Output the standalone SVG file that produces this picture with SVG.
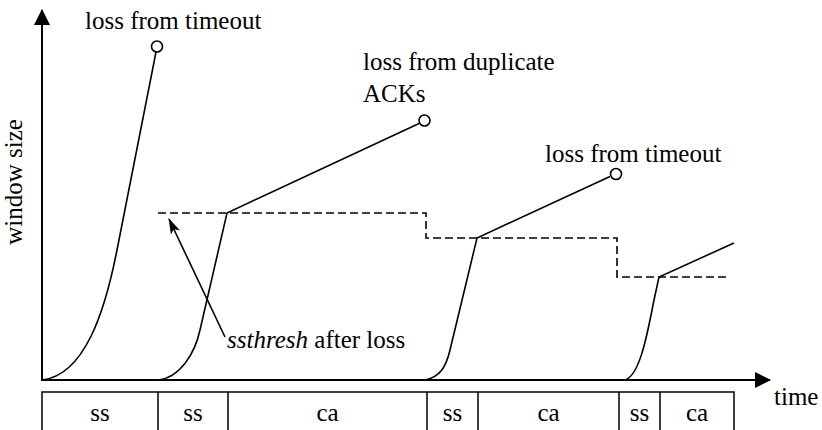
<svg xmlns="http://www.w3.org/2000/svg" width="822" height="430" viewBox="0 0 822 430">
<style>
text{font-family:"Liberation Serif","Times New Roman",serif;font-size:25px;fill:#000}
.ax{stroke:#000;stroke-width:2;fill:none}
.cv{stroke:#000;stroke-width:1.6;fill:none}
.ds{stroke:#000;stroke-width:1.6;fill:none;stroke-dasharray:8,4}
.ck{stroke:#000;stroke-width:1.6;fill:none}
.tb{stroke:#000;stroke-width:1.5;fill:none}
</style>
<defs>
<marker id="ah" viewBox="0 0 16 16" refX="15" refY="8" markerWidth="16" markerHeight="16" markerUnits="userSpaceOnUse" orient="auto">
<path d="M0,0 L16,8 L0,16 Z" fill="#000"/>
</marker>
<marker id="sa" viewBox="0 0 16 10" refX="15" refY="5" markerWidth="16" markerHeight="10" markerUnits="userSpaceOnUse" orient="auto">
<path d="M0,0 L16,5 L0,10 L4,5 Z" fill="#000"/>
</marker>
</defs>
<g id="axes">
<line class="ax" x1="42" y1="381" x2="42" y2="10" marker-end="url(#ah)"/>
<line class="ax" x1="41" y1="380" x2="770" y2="380" marker-end="url(#ah)"/>
<text transform="translate(22,182) rotate(-90)" text-anchor="middle">window size</text>
<text x="774" y="405">time</text>
</g>
<g id="connectors">
<path class="cv" d="M42,380 C85,375 105,311 117,250 L156,52"/>
<path class="cv" d="M158,380 C180,378 195,353 200,330 L227,213 L419,123.5"/>
<path class="cv" d="M425,380 C440,377 446,367 450,350 L477,238 L610,176.5"/>
<path class="cv" d="M624,380 C640,378 648,330 654,300 L659,277 L734,243"/>
<path class="ds" d="M158,213 H426 V238 H617 V277 H730"/>
<line class="cv" x1="225" y1="337" x2="169" y2="219" marker-end="url(#sa)"/>
</g>
<g id="loss1">
<circle class="ck" cx="157" cy="46.5" r="5.5"/>
<text x="85" y="29">loss from timeout</text>
</g>
<g id="loss2">
<circle class="ck" cx="424.5" cy="120.5" r="5.5"/>
<text x="363" y="70">loss from duplicate</text>
<text x="363" y="102">ACKs</text>
</g>
<g id="loss3">
<circle class="ck" cx="616" cy="174" r="5.5"/>
<text x="545" y="162">loss from timeout</text>
</g>
<g id="ssthresh-label">
<text x="227" y="348"><tspan font-style="italic">ssthresh</tspan> after loss</text>
</g>
<g id="phases">
<path class="tb" d="M42,432 V392 H734 V432 M158,392 V432 M228,392 V432 M427,392 V432 M478,392 V432 M619,392 V432 M660,392 V432"/>
<g text-anchor="middle">
<text x="100" y="421">ss</text>
<text x="193" y="421">ss</text>
<text x="327.5" y="421">ca</text>
<text x="452.5" y="421">ss</text>
<text x="548.5" y="421">ca</text>
<text x="639.5" y="421">ss</text>
<text x="697" y="421">ca</text>
</g>
</g>
</svg>
